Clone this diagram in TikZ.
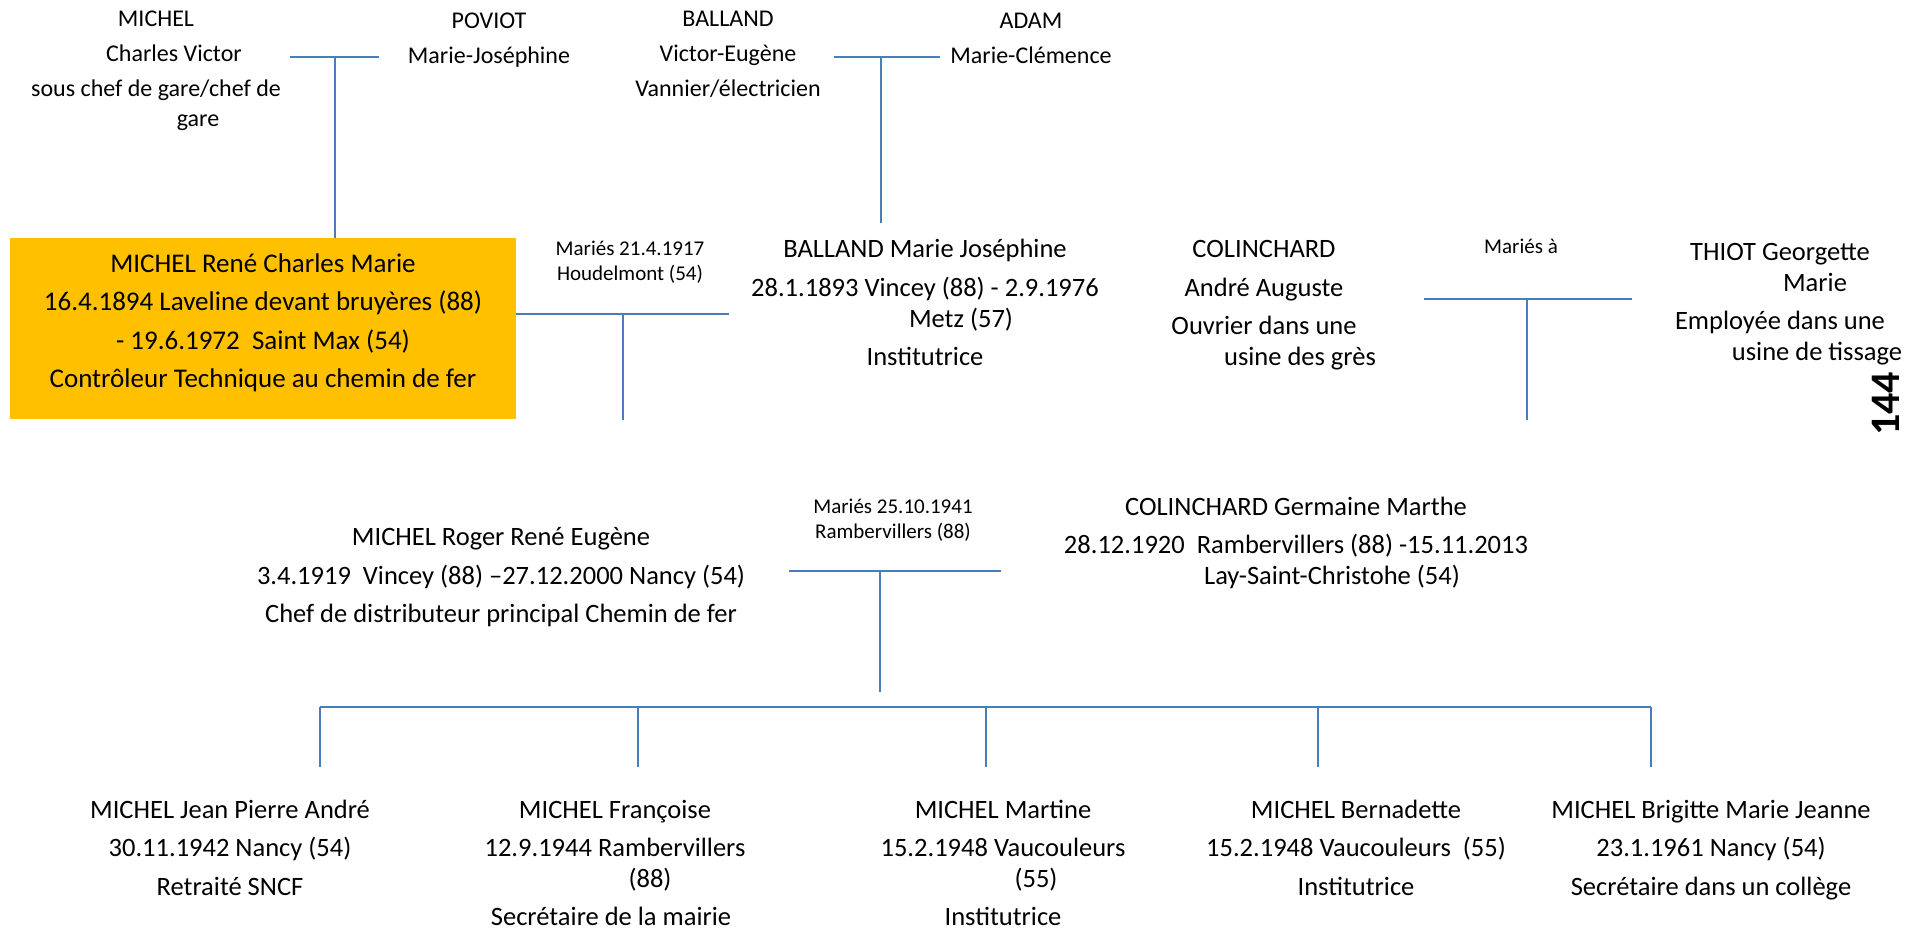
\documentclass[tikz,border=0pt]{standalone}
\usepackage{fontspec}
\setmainfont{Carlito}
\definecolor{linkblue}{HTML}{4A7EBB}
\definecolor{renegold}{HTML}{FFC000}
\tikzset{
  elder/.style={align=center, inner sep=0pt, anchor=base,
    font=\fontsize{12}{15}\selectfont},
  person/.style={align=center, inner sep=0pt, anchor=base,
    font=\fontsize{13.25}{15.5}\selectfont},
  wedding/.style={align=center, inner sep=0pt, anchor=base,
    font=\fontsize{10.5}{12.5}\selectfont},
  focus/.style={fill=renegold, align=center, inner sep=0pt,
    minimum width=253pt, minimum height=90.5pt, text depth=7.7pt,
    font=\fontsize{13.5}{19.2}\selectfont},
  link/.style={draw=linkblue, line width=1.3pt},
}

\begin{document}
\begin{tikzpicture}[x=0.5pt, y=-0.5pt]
  \useasboundingbox (0,0) rectangle (1912,929);

  \node[elder] (michelcv) at (156,127) {MICHEL\\[2.5pt]\hspace*{18pt}Charles Victor\\[2.5pt]sous chef de gare/chef de\\\hspace*{42pt}gare};
  \node[elder] (poviot) at (489,64) {POVIOT\\[2.5pt]Marie-Joséphine};
  \node[elder] (balland) at (728,97) {BALLAND\\[2.5pt]Victor-Eugène\\[2.5pt]Vannier/électricien};
  \node[elder] (adam) at (1031,64) {ADAM\\[2.5pt]Marie-Clémence};

  \node[focus] (rene) at (263,328.5) {MICHEL René Charles Marie\\16.4.1894 Laveline devant bruyères (88)\\- 19.6.1972\ \ Saint Max (54)\\Contrôleur Technique au chemin de fer};
  \node[wedding] (m1917) at (630,281) {Mariés 21.4.1917\\Houdelmont (54)};
  \node[person] (bmj) at (925,366) {BALLAND Marie Joséphine\\[3.75pt]28.1.1893 Vincey (88) - 2.9.1976\\\hspace*{36pt}Metz (57)\\[3.75pt]Institutrice};
  \node[person] (andre) at (1264,366) {COLINCHARD\\[3.75pt]André Auguste\\[3.75pt]Ouvrier dans une\\\hspace*{36pt}usine des grès};
  \node[wedding] (mariesa) at (1521,254) {Mariés à};
  \node[person] (thiot) at (1780,361) {THIOT Georgette\\\hspace*{35pt}Marie\\[3.75pt]Employée dans une\\\hspace*{37pt}usine de tissage};
  \node[font=\fontsize{21}{21}\selectfont\bfseries, inner sep=0pt, rotate=90] (pagenum) at (1886,404) {144};

  \node[person] (roger) at (501,623) {MICHEL Roger René Eugène\\[3.75pt]3.4.1919\ \ Vincey (88) –27.12.2000 Nancy (54)\\[3.75pt]Chef de distributeur principal Chemin de fer};
  \node[wedding] (m1941) at (893,539) {Mariés 25.10.1941\\Rambervillers (88)};
  \node[person] (germaine) at (1296,585) {COLINCHARD Germaine Marthe\\[3.75pt]28.12.1920\ \ Rambervillers (88) -15.11.2013\\\hspace*{36pt}Lay-Saint-Christohe (54)};

  \node[person] (kid1) at (230,895) {MICHEL Jean Pierre André\\[3.75pt]30.11.1942 Nancy (54)\\[3.75pt]Retraité SNCF};
  \node[person] (kid2) at (615,926) {MICHEL Françoise\\[3.75pt]12.9.1944 Rambervillers\\\hspace*{35pt}(88)\\[3.75pt]\hspace*{-4pt}Secrétaire de la mairie};
  \node[person] (kid3) at (1003,926) {MICHEL Martine\\[3.75pt]15.2.1948 Vaucouleurs\\\hspace*{33pt}(55)\\[3.75pt]Institutrice};
  \node[person] (kid4) at (1356,895) {MICHEL Bernadette\\[3.75pt]15.2.1948 Vaucouleurs\ \ (55)\\[3.75pt]Institutrice};
  \node[person] (kid5) at (1711,895) {MICHEL Brigitte Marie Jeanne\\[3.75pt]23.1.1961 Nancy (54)\\[3.75pt]Secrétaire dans un collège};

  \coordinate (cvl) at (290,57);
  \coordinate (cvr) at (379,57);
  \coordinate (cvm) at (335,57);
  \draw[link] (cvl) -- (cvr);
  \draw[link] (cvm) -- (cvm |- rene.north);

  \coordinate (bal) at (834,57);
  \coordinate (bar) at (940,57);
  \coordinate (bam) at (881,57);
  \coordinate (bad) at (881,223);
  \draw[link] (bal) -- (bar);
  \draw[link] (bam) -- (bad);

  \coordinate (rbm) at (623,314);
  \coordinate (rbr) at (729,314);
  \coordinate (rbd) at (623,420);
  \draw[link] (rene.east |- rbm) -- (rbr);
  \draw[link] (rbm) -- (rbd);

  \coordinate (cgl) at (1424,299);
  \coordinate (cgr) at (1632,299);
  \coordinate (cgm) at (1527,299);
  \coordinate (cgd) at (1527,420);
  \draw[link] (cgl) -- (cgr);
  \draw[link] (cgm) -- (cgd);

  \coordinate (rgl) at (789,571);
  \coordinate (rgr) at (1001,571);
  \coordinate (rgm) at (880,571);
  \coordinate (rgd) at (880,692);
  \draw[link] (rgl) -- (rgr);
  \draw[link] (rgm) -- (rgd);

  \coordinate (sib) at (0,707);
  \foreach \i/\x in {1/320,2/638,3/986,4/1318,5/1651}
    \coordinate (drop\i) at (\x,767);
  \draw[link] (drop1 |- sib) -- (drop5 |- sib);
  \foreach \i in {1,...,5}
    \draw[link] (drop\i |- sib) -- (drop\i);
\end{tikzpicture}
\end{document}
